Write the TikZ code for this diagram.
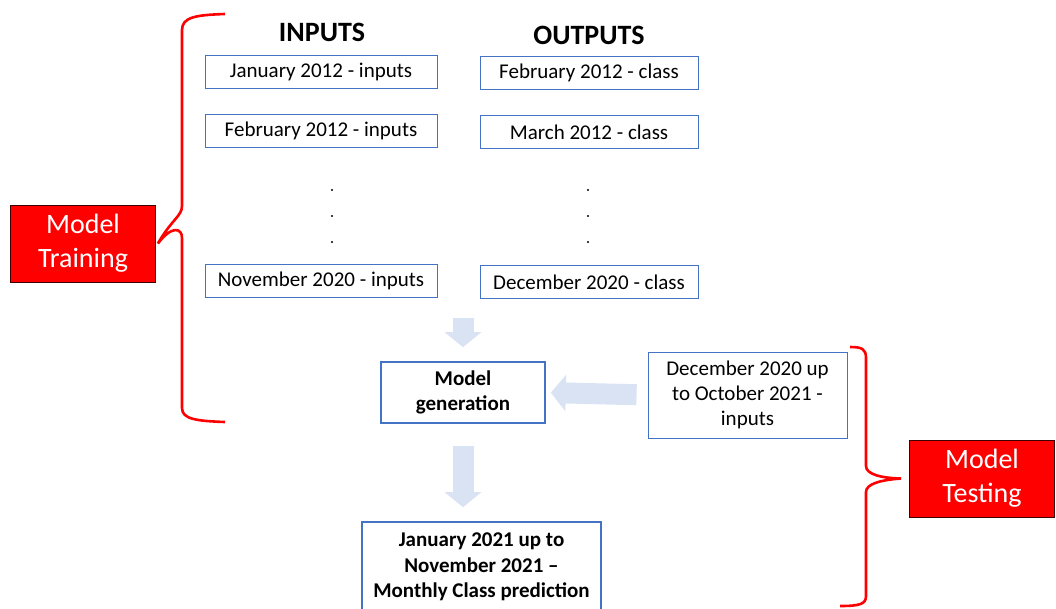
\documentclass[tikz,border=0pt]{standalone}
\usepackage{fontspec}
\setmainfont{Carlito}
\usetikzlibrary{arrows.meta}
\definecolor{boxblue}{RGB}{68,114,196}
\definecolor{arrowblue}{RGB}{218,227,243}
\definecolor{darkred}{RGB}{60,0,0}
\begin{document}
\begin{tikzpicture}[x=1pt,y=-1pt,
    month/.style={draw=boxblue,line width=0.9pt,minimum height=33pt,inner sep=0pt,font=\fontsize{21}{25}\selectfont},
    stage/.style={draw=boxblue,line width=1.6pt,inner sep=0pt,align=center,font=\fontsize{21}{25.5}\selectfont\bfseries},
    phase/.style={fill=red,draw=darkred,line width=0.8pt,minimum width=145pt,minimum height=77pt,inner sep=0pt,align=center,text=white,font=\fontsize{28}{34}\selectfont},
    fat/.style={draw=arrowblue,line width=21pt,-{Triangle[width=36pt,length=15pt]}},
    brace/.style={draw=red,line width=2.6pt}]
    \useasboundingbox (0,0) rectangle (1056,608);
    % Headings
    \node[font=\fontsize{28}{32}\selectfont\bfseries] (inhead) at (322,32) {INPUTS};
    \node[font=\fontsize{28}{32}\selectfont\bfseries] (outhead) at (589,35) {OUTPUTS};
    % Training months
    \node[month,minimum width=232pt] (in1) at (321,71.5) {January 2012 - inputs};
    \node[month,minimum width=232pt] (in2) at (321,131) {February 2012 - inputs};
    \node[month,minimum width=232pt] (in3) at (321,281) {November 2020 - inputs};
    \node[month,minimum width=218pt] (out1) at (589,72.5) {February 2012 - class};
    \node[month,minimum width=218pt] (out2) at (589,132) {March 2012 - class};
    \node[month,minimum width=218pt] (out3) at (589,282) {December 2020 - class};
    \foreach \y in {190,216,242} {
        \foreach \x in {332,588} {
            \fill (\x,\y) circle (1.2pt);
        }
    }
    % Model and test data
    \node[stage,minimum width=164pt,minimum height=61pt] (gen) at (463,392.5) {Model\\generation};
    \node[stage,font=\fontsize{21}{25}\selectfont,line width=0.9pt,minimum width=199pt,minimum height=86pt] (testin) at (747.5,395) {December 2020 up\\to October 2021 -\\inputs};
    \node[stage,minimum width=239pt,minimum height=90pt] (pred) at (481.5,567) {January 2021 up to\\November 2021 --\\Monthly Class prediction};
    % Phases
    \node[phase] (train) at (83,243.5) {Model\\Training};
    \node[phase] (testing) at (982,478.5) {Model\\Testing};
    % Block arrows
    \coordinate (trainend) at (463,318);
    \draw[fat,shorten >=14pt] (trainend) -- (gen.north);
    \draw[fat,shorten <=22pt,shorten >=14pt] (gen.south) -- (gen.south |- pred.north);
    \draw[fat,shorten <=11pt,shorten >=5pt] (testin.west) -- (gen.east);
    % Braces
    \draw[brace] (225,14) .. controls (196,15) and (182,17) .. (182,30) -- (182,206)
        .. controls (182,216) and (172,219) .. ([xshift=2pt]train.east)
        .. controls (172,225) and (182,228) .. (182,238) -- (182,408)
        .. controls (182,419) and (196,421) .. (225,422);
    \draw[brace] (850,347) .. controls (862,347) and (866,349) .. (866,358) -- (866,466)
        .. controls (866,474) and (880,478) .. ([xshift=-8pt]testing.west)
        .. controls (880,480) and (866,484) .. (866,492) -- (866,596)
        .. controls (866,604) and (860,606) .. (840,606);
\end{tikzpicture}
\end{document}
